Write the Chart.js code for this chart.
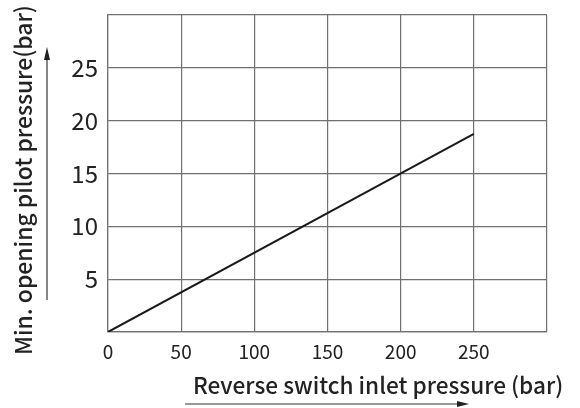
<!DOCTYPE html>
<html>
<head>
<meta charset="utf-8">
<script src="https://cdn.jsdelivr.net/npm/chart.js@4/dist/chart.umd.min.js"></script>
<style>
  html, body { margin: 0; padding: 0; background: #fff; }
  #wrap { width: 580px; height: 408px; }
</style>
</head>
<body>
<div id="wrap"><canvas id="chart" width="580" height="408"></canvas></div>
<script>
// data
var inletPressure = [0, 250];
var pilotPressure = [0, 18.75];
var xTickLabels = [0, 50, 100, 150, 200, 250];
var yTickLabels = [5, 10, 15, 20, 25];
var xTitle = 'Reverse switch inlet pressure (bar)';
var yTitle = 'Min. opening pilot pressure(bar)';

var FONT = '"Noto Sans CJK SC", "Noto Sans", sans-serif';
var GRID = '#707070';
var INK = '#222';

// pick a font size so the text spans the wanted width
function fitFont(ctx, text, width, weight) {
  ctx.font = weight + ' 20px ' + FONT;
  var size = 20 * width / ctx.measureText(text).width;
  ctx.font = weight + ' ' + size.toFixed(1) + 'px ' + FONT;
}

// axis titles with the little arrows next to them
var titlesPlugin = {
  id: 'titles',
  afterDraw: function(chart) {
    var ctx = chart.ctx;
    ctx.save();
    ctx.fillStyle = INK;
    ctx.strokeStyle = '#333';

    // x title
    fitFont(ctx, xTitle, 370, 500);
    ctx.textAlign = 'left';
    ctx.textBaseline = 'middle';
    ctx.fillText(xTitle, 193, 385);
    ctx.lineWidth = 1.2;
    ctx.beginPath();
    ctx.moveTo(185, 404);
    ctx.lineTo(458, 404);
    ctx.stroke();
    ctx.beginPath();
    ctx.moveTo(469, 404);
    ctx.lineTo(457, 401);
    ctx.lineTo(457, 407);
    ctx.closePath();
    ctx.fill();

    // y title
    fitFont(ctx, yTitle, 350, 500);
    ctx.save();
    ctx.translate(23, 180);
    ctx.rotate(-Math.PI / 2);
    ctx.textAlign = 'center';
    ctx.fillText(yTitle, 0, 0);
    ctx.restore();
    ctx.beginPath();
    ctx.moveTo(47, 300);
    ctx.lineTo(47, 58);
    ctx.stroke();
    ctx.beginPath();
    ctx.moveTo(47, 47);
    ctx.lineTo(44, 60);
    ctx.lineTo(50, 60);
    ctx.closePath();
    ctx.fill();
    ctx.restore();
  }
};

new Chart(document.getElementById('chart'), {
  type: 'scatter',
  data: {
    datasets: [{
      data: inletPressure.map(function(x, i) { return { x: x, y: pilotPressure[i] }; }),
      showLine: true,
      borderColor: '#1a1a1a',
      borderWidth: 2,
      pointRadius: 0,
      fill: false
    }]
  },
  options: {
    responsive: false,
    animation: false,
    layout: { padding: { top: 15, right: 33, left: 0, bottom: 0 } },
    plugins: { legend: { display: false }, tooltip: { enabled: false } },
    scales: {
      x: {
        type: 'linear',
        min: 0,
        max: 300,
        afterFit: function(scale) {
          scale.height = 76;
          scale.paddingLeft = 0;
          scale.paddingRight = 0;
        },
        grid: { color: GRID, lineWidth: 1.2, drawTicks: false },
        border: { color: GRID, width: 1.2 },
        ticks: {
          stepSize: 50,
          padding: 8,
          color: INK,
          font: { family: FONT, size: 19 },
          maxRotation: 0,
          callback: function(v) { return xTickLabels.indexOf(v) >= 0 ? String(v) : ''; }
        }
      },
      y: {
        min: 0,
        max: 30,
        afterFit: function(scale) {
          scale.width = 108;
          scale.paddingTop = 0;
          scale.paddingBottom = 0;
        },
        grid: { color: GRID, lineWidth: 1.2, drawTicks: false },
        border: { color: GRID, width: 1.2 },
        ticks: {
          stepSize: 5,
          padding: 10,
          color: INK,
          font: { family: FONT, size: 24 },
          callback: function(v) { return yTickLabels.indexOf(v) >= 0 ? String(v) : ''; }
        }
      }
    }
  },
  plugins: [titlesPlugin]
});
</script>
</body>
</html>
